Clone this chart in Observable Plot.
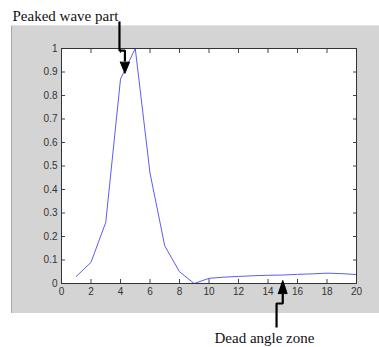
<!DOCTYPE html>
<html>
<head>
<meta charset="utf-8">
<script src="https://cdn.jsdelivr.net/npm/d3@7"></script>
<script src="https://cdn.jsdelivr.net/npm/@observablehq/plot@0.6"></script>
<style>
  html, body { margin: 0; padding: 0; background: white; }
  #wrap { position: relative; width: 379px; height: 347px; overflow: hidden; }
  #panel { position: absolute; left: 11px; top: 25px; width: 368px; height: 288px;
           background: #d4d4d4; border-left: 1px solid #a8a8a8; border-top: 1px solid #e6e6e6; box-sizing: border-box; }
  #chart { position: absolute; left: 0; top: 0; }
</style>
</head>
<body>
<div id="wrap"><div id="panel"></div><div id="chart"></div></div>
<script>
// Series
const xValues = [1, 2, 3, 4, 5, 6, 7, 8, 9, 10, 11, 12, 13, 14, 15, 16, 17, 18, 19, 20];
const yValues = [0.03, 0.09, 0.26, 0.87, 1.0, 0.47, 0.16, 0.05, 0.0, 0.022, 0.027, 0.03, 0.033, 0.035, 0.036, 0.039, 0.041, 0.044, 0.042, 0.038];

// Tick labels
const xTicks = [0, 2, 4, 6, 8, 10, 12, 14, 16, 18, 20];
const yTicks = [0, 0.1, 0.2, 0.3, 0.4, 0.5, 0.6, 0.7, 0.8, 0.9, 1];
const yTickLabels = ["0", "0.1", "0.2", "0.3", "0.4", "0.5", "0.6", "0.7", "0.8", "0.9", "1"];

// Annotations (data units)
const peakLabel = "Peaked wave part";
const peakLabelPos = [-3.32, 1.136];
const peakArrowX = [3.93, 3.93, 4.3, 4.3];
const peakArrowY = [1.115, 0.991, 0.991, 0.945];
const peakHeadX = [3.99, 4.3, 4.61, 3.99];
const peakHeadY = [0.942, 0.894, 0.942, 0.942];

const deadLabel = "Dead angle zone";
const deadLabelPos = [13.76, -0.232];
const deadArrowX = [14.58, 14.58, 15.0, 15.0];
const deadArrowY = [-0.187, -0.085, -0.085, -0.045];
const deadHeadX = [14.7, 15.0, 15.3, 14.7];
const deadHeadY = [-0.043, 0.013, -0.043, -0.043];

const series = xValues.map((x, i) => ({x, y: yValues[i]}));
const pts = (xs, ys) => xs.map((x, i) => ({x, y: ys[i]}));

const plot = Plot.plot({
  width: 379,
  height: 347,
  marginLeft: 61,
  marginRight: 23,
  marginTop: 48,
  marginBottom: 64,
  style: {background: "transparent", fontFamily: "'Liberation Sans', Arial, sans-serif", fontSize: "10px", color: "#333"},
  x: {domain: [0, 20], ticks: xTicks},
  y: {domain: [0, 1], ticks: yTicks},
  marks: [
    Plot.frame({fill: "white", stroke: null}),
    Plot.line(series, {x: "x", y: "y", stroke: "#5c5cf5", strokeWidth: 1}),
    Plot.axisX({ticks: xTicks, anchor: "bottom", tickSize: 0, tickPadding: 4, label: null}),
    Plot.axisX({ticks: xTicks, anchor: "bottom", tickSize: -4, tickFormat: () => "", label: null, stroke: "#444"}),
    Plot.axisX({ticks: xTicks, anchor: "top", tickSize: -4, tickFormat: () => "", label: null, stroke: "#444"}),
    Plot.axisY({ticks: yTicks, anchor: "left", tickSize: 0, tickPadding: 4, tickFormat: (d, i) => yTickLabels[i], label: null}),
    Plot.axisY({ticks: yTicks, anchor: "left", tickSize: -4, tickFormat: () => "", label: null, stroke: "#444"}),
    Plot.axisY({ticks: yTicks, anchor: "right", tickSize: -4, tickFormat: () => "", label: null, stroke: "#444"}),
    Plot.frame({stroke: "#333", strokeWidth: 1}),
    // annotations
    Plot.line(pts(peakArrowX, peakArrowY), {x: "x", y: "y", stroke: "black", strokeWidth: 2.2, strokeLinejoin: "miter", strokeLinecap: "butt"}),
    Plot.line(pts(peakHeadX, peakHeadY), {x: "x", y: "y", stroke: "black", fill: "black", strokeWidth: 1}),
    Plot.line(pts(deadArrowX, deadArrowY), {x: "x", y: "y", stroke: "black", strokeWidth: 2.2, strokeLinejoin: "miter", strokeLinecap: "butt"}),
    Plot.line(pts(deadHeadX, deadHeadY), {x: "x", y: "y", stroke: "black", fill: "black", strokeWidth: 1}),
    Plot.text([peakLabel], {x: () => peakLabelPos[0], y: () => peakLabelPos[1], text: d => d, textAnchor: "start", fontFamily: "'Liberation Serif', 'Times New Roman', serif", fontSize: 15, fill: "#111"}),
    Plot.text([deadLabel], {x: () => deadLabelPos[0], y: () => deadLabelPos[1], text: d => d, textAnchor: "middle", fontFamily: "'Liberation Serif', 'Times New Roman', serif", fontSize: 15, fill: "#111"})
  ]
});
document.getElementById("chart").appendChild(plot);
</script>
</body>
</html>
